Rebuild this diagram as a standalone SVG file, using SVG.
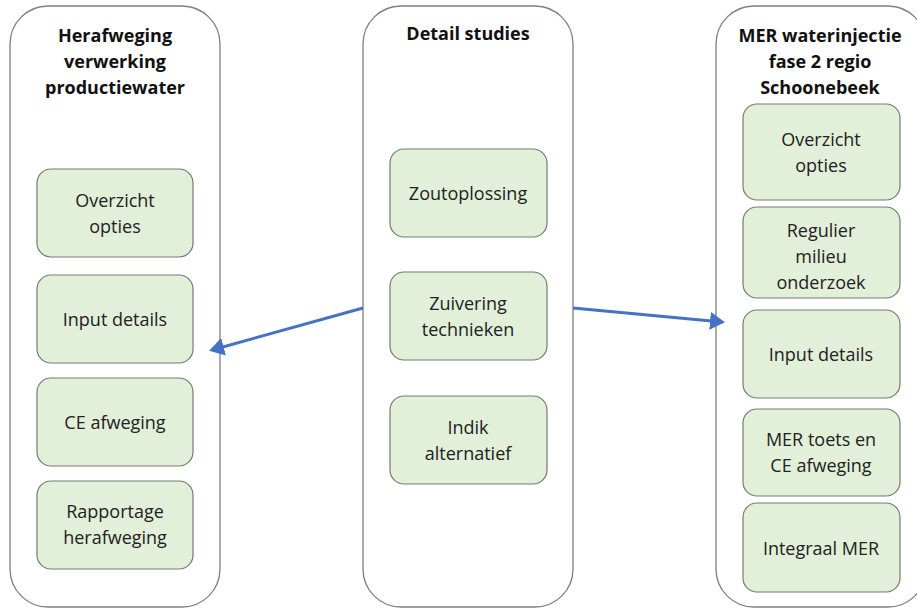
<svg xmlns="http://www.w3.org/2000/svg" width="917" height="609" viewBox="0 0 917 609">
<defs>
<style>
.cont{fill:#ffffff;stroke:#7f7f7f;stroke-width:1.3}
.box{fill:#e2efd9;stroke:#6f7f6f;stroke-width:1.2}
.title{font-family:"Open Sans","Liberation Sans",sans-serif;font-weight:bold;font-size:18px;fill:#111;text-anchor:middle}
.lbl{font-family:"Open Sans","Liberation Sans",sans-serif;font-size:18px;fill:#222;text-anchor:middle}
.conn{stroke:#4472c4;stroke-width:3;fill:none}
</style>
<marker id="ah" markerWidth="6" markerHeight="6" refX="4" refY="3" orient="auto" markerUnits="strokeWidth">
<path d="M0,0 L5,3 L0,6 z" fill="#4472c4"/>
</marker>
</defs>
<rect width="917" height="609" fill="#ffffff"/>

<g id="left-container">
<rect class="cont" x="10" y="6" width="210" height="601" rx="38"/>
<text class="title" x="115" y="42">Herafweging</text>
<text class="title" x="115" y="68">verwerking</text>
<text class="title" x="115" y="94">productiewater</text>
</g>
<g id="left-overzicht"><rect class="box" x="37" y="169" width="156" height="88" rx="14"/><text class="lbl" x="115" y="207">Overzicht</text><text class="lbl" x="115" y="233">opties</text></g>
<g id="left-input"><rect class="box" x="37" y="275" width="156" height="88" rx="14"/><text class="lbl" x="115" y="326">Input details</text></g>
<g id="left-ce"><rect class="box" x="37" y="378" width="156" height="88" rx="14"/><text class="lbl" x="115" y="429">CE afweging</text></g>
<g id="left-rapportage"><rect class="box" x="37" y="481" width="156" height="88" rx="14"/><text class="lbl" x="115" y="518">Rapportage</text><text class="lbl" x="115" y="544">herafweging</text></g>

<g id="mid-container">
<rect class="cont" x="363" y="6" width="210" height="601" rx="38"/>
<text class="title" x="468" y="40">Detail studies</text>
</g>
<g id="mid-zout"><rect class="box" x="390" y="149" width="157" height="88" rx="14"/><text class="lbl" x="468" y="200">Zoutoplossing</text></g>
<g id="mid-zuivering"><rect class="box" x="390" y="272" width="157" height="88" rx="14"/><text class="lbl" x="468" y="310">Zuivering</text><text class="lbl" x="468" y="336">technieken</text></g>
<g id="mid-indik"><rect class="box" x="390" y="396" width="157" height="88" rx="14"/><text class="lbl" x="468" y="434">Indik</text><text class="lbl" x="468" y="460">alternatief</text></g>

<g id="right-container">
<rect class="cont" x="716" y="6" width="210" height="601" rx="38"/>
<text class="title" x="820" y="42">MER waterinjectie</text>
<text class="title" x="820" y="68">fase 2 regio</text>
<text class="title" x="820" y="94">Schoonebeek</text>
</g>
<g id="right-overzicht"><rect class="box" x="743" y="104" width="157" height="96" rx="14"/><text class="lbl" x="821" y="146">Overzicht</text><text class="lbl" x="821" y="172">opties</text></g>
<g id="right-regulier"><rect class="box" x="743" y="207" width="157" height="91" rx="14"/><text class="lbl" x="821" y="237">Regulier</text><text class="lbl" x="821" y="263">milieu</text><text class="lbl" x="821" y="289">onderzoek</text></g>
<g id="right-input"><rect class="box" x="743" y="310" width="157" height="88" rx="14"/><text class="lbl" x="821" y="361">Input details</text></g>
<g id="right-mer"><rect class="box" x="743" y="409" width="157" height="87" rx="14"/><text class="lbl" x="821" y="446">MER toets en</text><text class="lbl" x="821" y="472">CE afweging</text></g>
<g id="right-integraal"><rect class="box" x="743" y="503" width="157" height="89" rx="14"/><text class="lbl" x="821" y="555">Integraal MER</text></g>

<g id="connectors">
<line class="conn" x1="363" y1="308" x2="212" y2="350" marker-end="url(#ah)"/>
<line class="conn" x1="573" y1="308" x2="722" y2="322" marker-end="url(#ah)"/>
</g>
</svg>
